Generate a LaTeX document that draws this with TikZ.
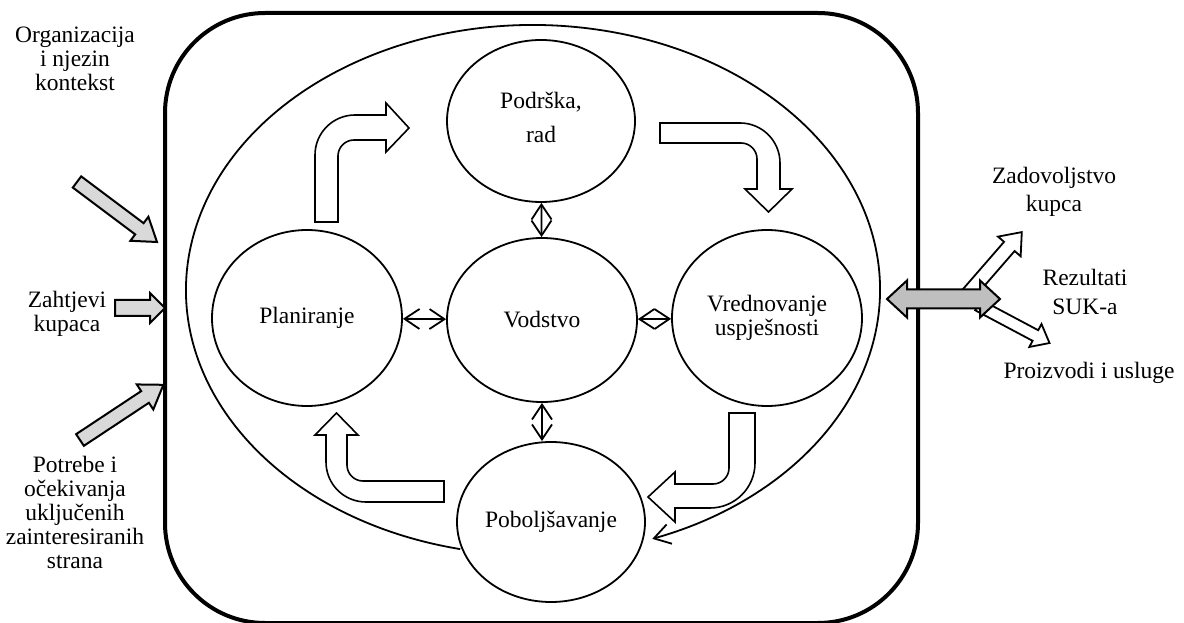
\documentclass[tikz,border=0pt]{standalone}
\usepackage{fontspec}
\setmainfont{Liberation Serif}
\usetikzlibrary{arrows.meta,shapes.geometric,calc}
\definecolor{ingray}{RGB}{217,217,217}
\definecolor{outgray}{RGB}{191,191,191}

\begin{document}
\begin{tikzpicture}[x=1pt,y=1pt,
  font=\fontsize{23.5}{24}\selectfont,
  stage/.style={draw,ellipse,line width=1.8pt,inner sep=0pt,align=center,
        minimum width=190pt,minimum height=176pt},
  note/.style={align=center,inner sep=0pt},
  wide/.style={font=\fontsize{23.5}{28.5}\selectfont},
  flow/.style={draw,fill=white,line width=1.6pt},
  inarrow/.style={draw,fill=ingray,line width=2pt},
  outarrow/.style={draw,fill=white,line width=1.8pt},
  link/.style={line width=1.8pt,
        {Straight Barb[length=15pt,width=20pt]}-{Straight Barb[length=15pt,width=20pt]}}]
  \useasboundingbox (0,0) rectangle (1184,622);

  %% outer frame
  \draw[line width=4pt,rounded corners=100pt] (165,-1) rectangle (918,609);

  %% stages
  \node[stage,minimum width=188pt,minimum height=162pt,text depth=7pt] (pod) at (541,501)
        {Podrška,\\[10pt]rad};
  \node[stage,minimum height=164pt] (vod) at (542,302) {Vodstvo};
  \node[stage] (plan) at (307,304) {Planiranje};
  \node[stage] (vred) at (767,304) {Vrednovanje\\uspješnosti};
  \node[stage,minimum width=188pt,minimum height=160pt] (pob) at (551,100)
        {Poboljšavanje};

  %% big loop round the stages
  \coordinate (ctr) at (533,332);
  \draw[line width=1.8pt,-{Straight Barb[length=16pt,width=20pt]}]
        ($(ctr)+(257.9:347pt and 265pt)$)
        arc[start angle=257.9,end angle=-69.9,x radius=347pt,y radius=265pt];

  %% links to the leadership
  \draw[link] (pod) -- (vod);
  \draw[link] (plan) -- (vod);
  \draw[link] (vod) -- (vred);
  \draw[link] (vod.south) -- (pob.north -| vod.south);

  %% cycle arrows
  \draw[flow] (315,400) -- (315,467) arc[start angle=180,end angle=90,radius=40pt]
        -- (386,507) -- (386,519) -- (409,494) -- (386,470) -- (386,482)
        -- (354,482) arc[start angle=90,end angle=180,radius=16pt] -- (338,400) -- cycle;
  \draw[flow] (660,499) -- (740,499) arc[start angle=90,end angle=0,radius=40pt]
        -- (780,433) -- (792,433) -- (768.5,410) -- (745,433) -- (757,433)
        -- (757,463) arc[start angle=0,end angle=90,radius=16pt] -- (660,479) -- cycle;
  \draw[flow] (729,209) -- (755,209) -- (755,159) arc[start angle=0,end angle=-90,radius=45pt]
        -- (675,114) -- (675,100) -- (648,125) -- (675,150) -- (675,138)
        -- (713,138) arc[start angle=-90,end angle=0,radius=16pt] -- cycle;
  \draw[flow] (444,141) -- (444,120) -- (366,120) arc[start angle=-90,end angle=-180,radius=40pt]
        -- (326,187) -- (315,187) -- (336.5,209) -- (358,187) -- (347,187)
        -- (347,157) arc[start angle=180,end angle=270,radius=16pt] -- cycle;

  %% inputs
  \node[note] (org) at (75,563) {Organizacija\\i njezin\\kontekst};
  \node[note] (zah) at (67,308) {Zahtjevi\\kupaca};
  \node[note] (pot) at (75,110)
        {Potrebe i\\očekivanja\\uključenih\\zainteresiranih\\strana};
  \begin{scope}[shift={(77,440)},rotate=-36.87]
    \draw[inarrow] (0,-7) -- (78,-7) -- (78,-15) -- (100,0) -- (78,15) -- (78,7) -- (0,7) -- cycle;
  \end{scope}
  \draw[inarrow] (115,306) -- (150,306) -- (150,299) -- (165,314) -- (150,329)
        -- (150,322) -- (115,322) -- cycle;
  \begin{scope}[shift={(80,182)},rotate=33.5]
    \draw[inarrow] (0,-7) -- (78,-7) -- (78,-15) -- (100,0) -- (78,15) -- (78,7) -- (0,7) -- cycle;
  \end{scope}

  %% outputs
  \node[note,wide] (zad) at (1054,430) {Zadovoljstvo\\kupca};
  \node[note,wide] (rez) at (1085,330) {Rezultati\\SUK-a};
  \node[note] (pro) at (1089,249) {Proizvodi i usluge};
  \begin{scope}[shift={(968,328)},rotate=49]
    \draw[outarrow] (0,-7) -- (63,-7) -- (63,-15) -- (82,0) -- (63,15) -- (63,7) -- (0,7) -- cycle;
  \end{scope}
  \begin{scope}[shift={(978,317)},rotate=-28]
    \draw[outarrow] (0,-6) -- (65,-6) -- (65,-13) -- (81,0) -- (65,13) -- (65,6) -- (0,6) -- cycle;
  \end{scope}
  \draw[inarrow,fill=outgray] (887,323) -- (907,341.5) -- (907,332.5) -- (980,332.5)
        -- (980,341.5) -- (1000,323) -- (980,304.5) -- (980,313.5) -- (907,313.5)
        -- (907,304.5) -- cycle;
\end{tikzpicture}
\end{document}
